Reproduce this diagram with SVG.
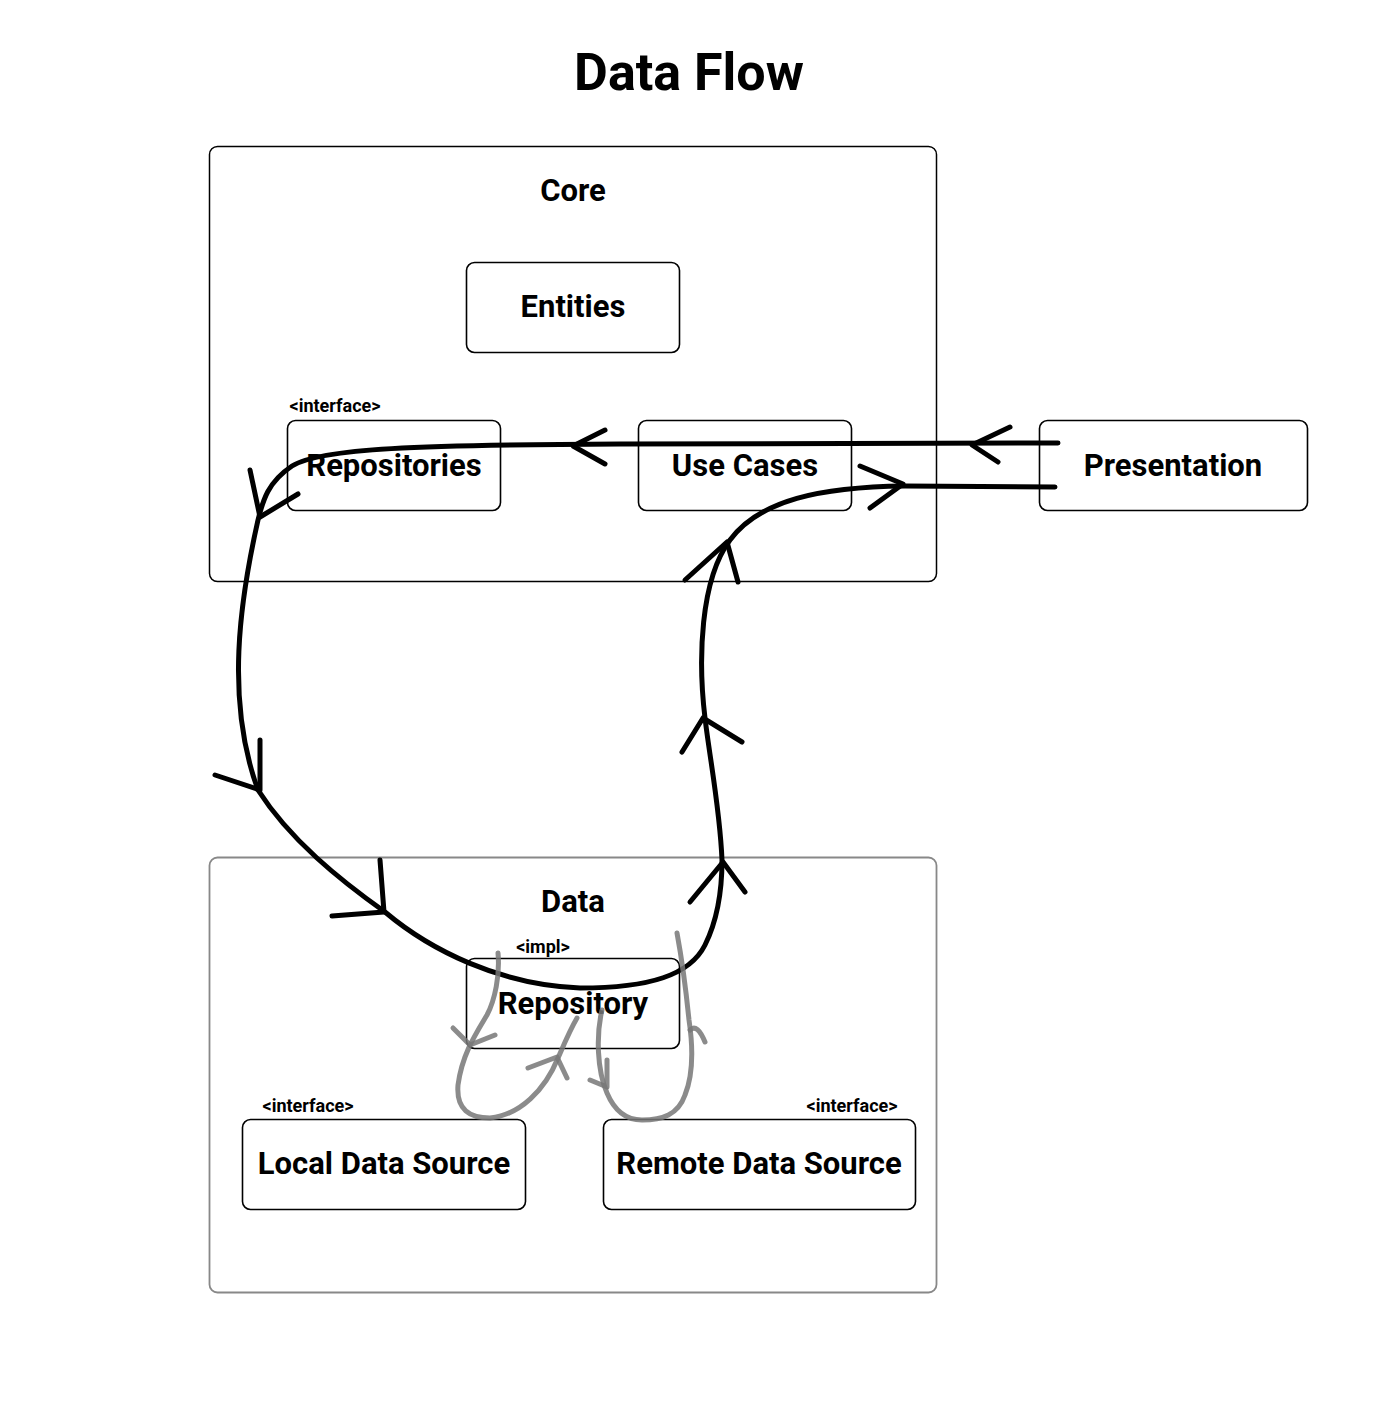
<svg xmlns="http://www.w3.org/2000/svg" width="1400" height="1418" viewBox="0 0 1400 1418">
<style>
.t{font-family:Roboto,"Liberation Sans",sans-serif;font-weight:bold;fill:#000;text-anchor:middle}
.l{font-size:31px}
.s{font-size:18px}
.box{fill:none;stroke:#000;stroke-width:1.6}
.cont{fill:none;stroke:#000;stroke-width:1.5}
.gcont{fill:none;stroke:#888;stroke-width:1.8}
.flow{fill:none;stroke:#000;stroke-width:5;stroke-linecap:round;stroke-linejoin:round}
.hand{fill:none;stroke:#777;stroke-opacity:0.85;stroke-width:5;stroke-linecap:round;stroke-linejoin:round}
</style>
<rect width="1400" height="1418" fill="#fff"/>
<text class="t" x="689" y="90" font-size="52">Data Flow</text>
<g id="core">
<rect class="cont" x="209.5" y="146.5" width="727" height="435" rx="8"/>
<text class="t l" x="573" y="201">Core</text>
</g>
<g id="entities">
<rect class="box" x="466.5" y="262.5" width="213" height="90" rx="8"/>
<text class="t l" x="573" y="317">Entities</text>
</g>
<g id="repositories">
<text class="t s" x="335" y="412">&lt;interface&gt;</text>
<rect class="box" x="287.5" y="420.5" width="213" height="90" rx="8"/>
<text class="t l" x="394" y="476">Repositories</text>
</g>
<g id="usecases">
<rect class="box" x="638.5" y="420.5" width="213" height="90" rx="8"/>
<text class="t l" x="745" y="476">Use Cases</text>
</g>
<g id="presentation">
<rect class="box" x="1039.5" y="420.5" width="268" height="90" rx="8"/>
<text class="t l" x="1173" y="476">Presentation</text>
</g>
<g id="data">
<rect class="gcont" x="209.5" y="857.5" width="727" height="435" rx="8"/>
<text class="t l" x="573" y="912">Data</text>
</g>
<g id="repository">
<text class="t s" x="543" y="953">&lt;impl&gt;</text>
<rect class="box" x="466.5" y="958.5" width="213" height="90" rx="8"/>
<text class="t l" x="573" y="1014">Repository</text>
</g>
<g id="local">
<text class="t s" x="308" y="1112">&lt;interface&gt;</text>
<rect class="box" x="242.5" y="1119.5" width="283" height="90" rx="8"/>
<text class="t l" x="384" y="1174">Local Data Source</text>
</g>
<g id="remote">
<text class="t s" x="852" y="1112">&lt;interface&gt;</text>
<rect class="box" x="603.5" y="1119.5" width="312" height="90" rx="8"/>
<text class="t l" x="759" y="1174">Remote Data Source</text>
</g>
<g id="connectors">
<path class="flow" d="M1058 443 L620 444 C420 445 320 448 292 466 C268 482 263 500 258 520 C240 600 225 700 258 790 C290 840 340 880 385 912 C430 950 500 985 580 988 C650 988 690 975 705 945 C720 915 722 880 722 860 C720 810 710 760 705 718 C698 660 700 580 730 540 C760 500 820 487 905 486 L1055 487"/>
<path class="flow" d="M1010 427 L972 445 L998 462"/>
<path class="flow" d="M605 430 L573 446 L605 464"/>
<path class="flow" d="M250 470 L260 517 L298 494"/>
<path class="flow" d="M260 740 L260 790 L215 775"/>
<path class="flow" d="M380 860 L384 912 L332 916"/>
<path class="flow" d="M690 902 L723 862 L745 892"/>
<path class="flow" d="M682 752 L703 718 L742 742"/>
<path class="flow" d="M685 580 L727 542 L738 582"/>
<path class="flow" d="M860 466 L903 484 L870 508"/>
<path class="hand" d="M498 953 C500 975 495 1000 487 1015 C475 1035 462 1055 458 1085 C456 1110 470 1118 490 1118 C520 1115 545 1090 558 1058 C565 1042 570 1030 577 1018"/>
<path class="hand" d="M453 1028 L470 1045 L495 1035"/>
<path class="hand" d="M528 1068 L557 1057 L567 1078"/>
<path class="hand" d="M602 1010 C596 1035 597 1070 607 1093 C615 1112 628 1120 642 1120 C662 1120 678 1115 685 1095 C695 1070 692 1040 689 1020 C686 990 682 960 677 933"/>
<path class="hand" d="M607 1060 L607 1087 L590 1080"/>
<path class="hand" d="M690 1030 C695 1025 700 1030 705 1042"/>
</g>
</svg>
